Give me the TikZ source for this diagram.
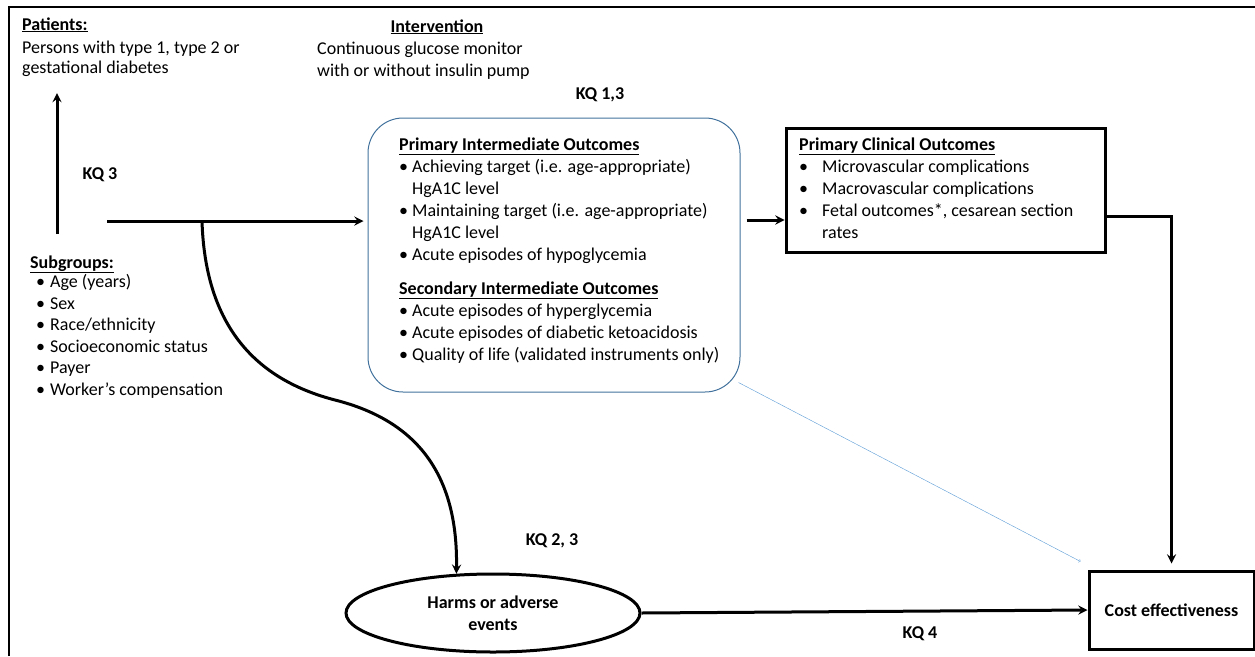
\documentclass[tikz,border=0pt]{standalone}
\usepackage{fontspec}
\setmainfont{Carlito}
\usetikzlibrary{shapes.geometric}
\definecolor{boxblue}{RGB}{65,113,156}
\definecolor{lineblue}{RGB}{91,155,213}
\newcommand{\bul}[1]{\makebox[#1][l]{\textbullet}}

\begin{document}
\begin{tikzpicture}[x=1pt,y=-1pt,>=stealth,
  every node/.style={inner sep=0pt,font=\fontsize{18}{22}\selectfont},
  kq/.style={font=\fontsize{18}{22}\selectfont\bfseries},
  heavy/.style={line width=3pt}]
  \useasboundingbox (0,0) rectangle (1255,656);
  \draw[line width=2pt] (9,656) -- (9,7) -- (1255,7);

  % text blocks (base = last line)
  \node[anchor=base west,align=left] (patients) at (22,73)
    {\textbf{\underline{Patients:}}\\[1pt]Persons with type 1, type 2 or\\[-2pt]gestational diabetes};
  \node[anchor=base] (intvhead) at (437,32) {\textbf{\underline{Intervention}}};
  \node[anchor=base west,align=left] (intv) at (317,76)
    {Continuous glucose monitor\\with or without insulin pump};
  \node[anchor=base west,align=left,font=\fontsize{18}{21.5}\selectfont] (subgroups) at (30,395)
    {\textbf{\underline{Subgroups:}}\\[-2pt]
     \hspace*{6pt}\bul{14pt}Age (years)\\
     \hspace*{6pt}\bul{14pt}Sex\\
     \hspace*{6pt}\bul{14pt}Race/ethnicity\\
     \hspace*{6pt}\bul{14pt}Socioeconomic status\\
     \hspace*{6pt}\bul{14pt}Payer\\
     \hspace*{6pt}\bul{14pt}Worker’s compensation};

  % boxes
  \node[draw=boxblue,line width=1pt,rounded corners=35pt,minimum width=372,minimum height=274] (inter) at (554,255) {};
  \node[anchor=base west,align=left] (intertxt) at (399,360)
    {\textbf{\underline{Primary Intermediate Outcomes}}\\
     \bul{13pt}Achieving target (i.e. age-appropriate)\\
     \hspace*{13pt}HgA1C level\\
     \bul{13pt}Maintaining target (i.e. age-appropriate)\\
     \hspace*{13pt}HgA1C level\\
     \bul{13pt}Acute episodes of hypoglycemia\\[12pt]
     \textbf{\underline{Secondary Intermediate Outcomes}}\\
     \bul{13pt}Acute episodes of hyperglycemia\\
     \bul{13pt}Acute episodes of diabetic ketoacidosis\\
     \bul{13pt}Quality of life (validated instruments only)};
  \node[draw,heavy,minimum width=319,minimum height=124] (clin) at (945.5,190) {};
  \node[anchor=base west,align=left] (clintxt) at (799,238)
    {\textbf{\underline{Primary Clinical Outcomes}}\\
     \bul{23pt}Microvascular complications\\
     \bul{23pt}Macrovascular complications\\
     \bul{23pt}Fetal outcomes*, cesarean section\\
     \hspace*{23pt}rates};
  \node[draw,heavy,ellipse,minimum width=294,minimum height=78,align=center,font=\fontsize{18}{22}\selectfont\bfseries] (harms) at (493,613)
    {Harms or adverse\\events};
  \node[draw,heavy,minimum width=165,minimum height=78,font=\fontsize{18}{22}\selectfont\bfseries] (cost) at (1171.5,610)
    {Cost effectiveness};

  % key questions
  \node[kq,anchor=base] (kq3) at (100,179) {KQ 3};
  \node[kq,anchor=base] (kq13) at (600,99) {KQ 1,3};
  \node[kq,anchor=base] (kq23) at (552,545) {KQ 2, 3};
  \node[kq,anchor=base] (kq4) at (920,638) {KQ 4};

  % connectors
  \coordinate (subtop) at (57,234);
  \coordinate (pattip) at (57,93);
  \coordinate (hstart) at (107,221);
  \coordinate (branch) at (202,221);
  \draw[heavy,->] (subtop) -- (pattip);
  \draw[heavy,->,shorten >=4pt] (hstart) -- (inter.west |- hstart);
  \draw[heavy,->] (branch) .. controls (205,320) and (250,378) .. (335,400)
    .. controls (422,422) and (458,480) .. (harms.133);
  \draw[heavy,->] ([xshift=6pt]inter.east |- 0,220) -- (clin.west |- 0,220);
  \draw[heavy,->,shorten >=6pt] (clin.east |- 0,216) -| (cost.north);
  \draw[lineblue,->,>=to] ([shift={(-2,-10)}]inter.south east) -- ([shift={(-7,-8)}]cost.north west);
  \draw[heavy,->] (harms.east) -- (cost.west);
\end{tikzpicture}
\end{document}
